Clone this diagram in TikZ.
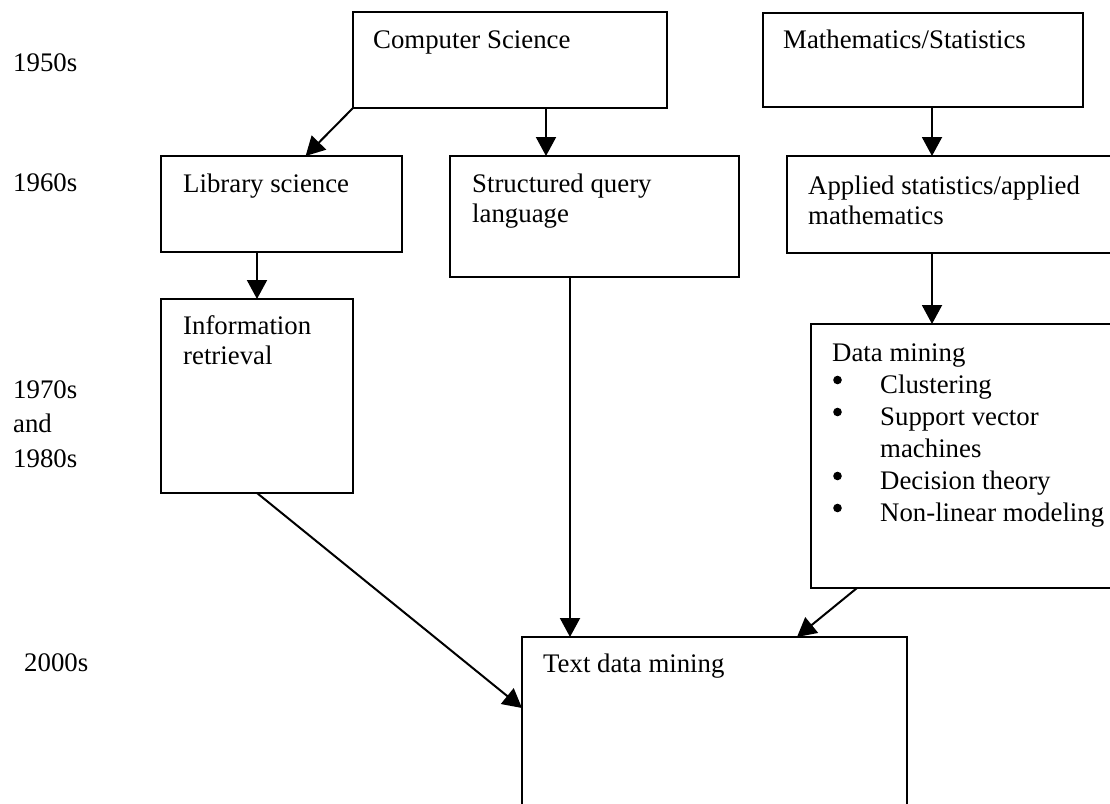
\documentclass[tikz,border=0pt]{standalone}
\usepackage{fontspec}
\setmainfont{Liberation Serif}
\usetikzlibrary{arrows.meta,calc}
\begin{document}
\begin{tikzpicture}[x=1pt,y=-1pt,
  box/.style={draw,line width=2.3pt,anchor=north west,inner sep=0pt,outer sep=0pt},
  txt/.style={anchor=base west,inner sep=0pt,align=left,font=\fontsize{26.8}{30.5}\selectfont},
  yr/.style={anchor=base west,inner sep=0pt,align=left,font=\fontsize{26.8}{34.5}\selectfont},
  dot/.style={fill=black},
  arr/.style={line width=2pt,-{Triangle[length=19pt,width=20pt]}}]
\clip (0,0) rectangle (1110,803);
\fill[white] (0,0) rectangle (1110,803);
% boxes
\node[box,minimum width=314pt,minimum height=96pt] (cs) at (353,12) {};
\node[box,minimum width=320pt,minimum height=94pt] (math) at (763,13) {};
\node[box,minimum width=241pt,minimum height=96pt] (lib) at (161,156) {};
\node[box,minimum width=289pt,minimum height=121pt] (sql) at (450,156) {};
\node[box,minimum width=340pt,minimum height=97pt] (app) at (787,156) {};
\node[box,minimum width=192pt,minimum height=194pt] (info) at (161,299) {};
\node[box,minimum width=320pt,minimum height=264pt] (dm) at (811,324) {};
\node[box,minimum width=385pt,minimum height=200pt] (tdm) at (522,637) {};
% texts (multi-line nodes are placed at the baseline of their last line)
\node[txt] (cs-t) at (373,48) {Computer Science};
\node[txt] (math-t) at (783,48) {Mathematics/Statistics};
\node[txt] (lib-t) at (183,192) {Library science};
\node[txt] (sql-t) at (472,222.5) {Structured query\\language};
\node[txt] (app-t) at (808,224.5) {Applied statistics/applied\\mathematics};
\node[txt] (info-t) at (183,364.5) {Information\\retrieval};
\node[txt,font=\fontsize{26.8}{32}\selectfont] (dm-t) at (832,521) {Data mining\\
\hspace*{48pt}Clustering\\
\hspace*{48pt}Support vector\\
\hspace*{48pt}machines\\
\hspace*{48pt}Decision theory\\
\hspace*{48pt}Non-linear modeling};
\fill[dot] (837.5,380) circle (4.3pt);
\fill[dot] (837.5,412) circle (4.3pt);
\fill[dot] (837.5,476) circle (4.3pt);
\fill[dot] (837.5,508) circle (4.3pt);
\node[txt] (tdm-t) at (543,672) {Text data mining};
% years
\node[yr] (y1) at (13,71) {1950s};
\node[yr] (y2) at (13,191) {1960s};
\node[yr] (y3) at (13,467) {1970s\\and\\1980s};
\node[yr] (y4) at (24,671) {2000s};
% connectors
\coordinate (xa) at (546,0);
\coordinate (xb) at (932,0);
\coordinate (xc) at (570,0);
\coordinate (xd) at (857,0);
\coordinate (xe) at (797,0);
\coordinate (ya) at (0,708);
\draw[arr] (cs.south west) -- ($(lib.north west)!0.6!(lib.north east)$);
\draw[arr] (cs.south -| xa) -- (sql.north -| xa);
\draw[arr] (math.south -| xb) -- (app.north -| xb);
\draw[arr] (app.south -| xb) -- (dm.north -| xb);
\draw[arr] (lib.south -| info.north) -- (info.north);
\draw[arr] (info.south) -- (tdm.west |- ya);
\draw[arr] (sql.south -| xc) -- (tdm.north -| xc);
\draw[arr] (dm.south -| xd) -- (tdm.north -| xe);
\end{tikzpicture}
\end{document}
